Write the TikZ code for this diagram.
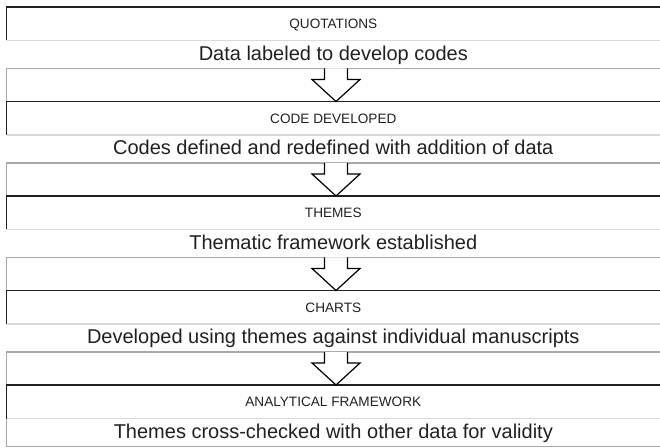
\documentclass[tikz,border=0pt]{standalone}
\usepackage{fontspec}
\setmainfont{Liberation Sans}
\usepackage{xcolor}
\usepackage{tikz}
\usetikzlibrary{calc}
\usetikzlibrary{positioning}
\definecolor{inkgray}{HTML}{231F20}
\definecolor{rulelight}{HTML}{DADADA}
\definecolor{rulemid}{HTML}{A9A9AD}

\begin{document}
\begin{tikzpicture}[x=1pt,y=1pt,
    header/.style={minimum width=653.4pt, minimum height=33.5pt, inner sep=0pt, outer sep=0pt,
      text=inkgray, font=\fontsize{13.6}{16}\selectfont, text height=9.8pt, text depth=0pt},
    body/.style={minimum width=653.4pt, minimum height=28pt, inner sep=0pt, outer sep=0pt,
      text=inkgray, font=\fontsize{20}{24}\selectfont, text height=14.5pt, text depth=3pt},
    topline/.style={draw=inkgray, line width=1.6pt},
    lightline/.style={draw=rulelight, line width=1.5pt},
    midline/.style={draw=rulemid, line width=1.5pt},
    flowarrow/.style={draw=black, fill=white, line width=1.2pt, line join=miter}]
    \useasboundingbox (0,0) rectangle (660,447);
    \node[header] (h1) at (333.3,423.25) {QUOTATIONS};
    \node[body, below=0pt of h1] (b1) {Data labeled to develop codes};
    \node[header, below=33pt of b1] (h2) {CODE DEVELOPED};
    \node[body, below=0pt of h2] (b2) {Codes defined and redefined with addition of data};
    \node[header, below=33pt of b2] (h3) {THEMES};
    \node[body, below=0pt of h3] (b3) {Thematic framework established};
    \node[header, below=33pt of b3] (h4) {CHARTS};
    \node[body, below=0pt of h4] (b4) {Developed using themes against individual manuscripts};
    \node[header, below=33pt of b4] (h5) {ANALYTICAL FRAMEWORK};
    \node[body, below=0pt of h5] (b5) {Themes cross-checked with other data for validity};
    % rules of each band
    \draw[topline] (h1.south west) -- (h1.north west) -- (h1.north east);
    \draw[lightline] (h1.south west) -- (h1.south east);
    \draw[midline] (b1.south east) -- (b1.south west) -- (h2.north west);
    \draw[topline] (h2.south west) -- (h2.north west) -- (h2.north east);
    \draw[lightline] (h2.south west) -- (h2.south east);
    \draw[midline] (b2.south east) -- (b2.south west) -- (h3.north west);
    \draw[topline] (h3.south west) -- (h3.north west) -- (h3.north east);
    \draw[lightline] (h3.south west) -- (h3.south east);
    \draw[midline] (b3.south east) -- (b3.south west) -- (h4.north west);
    \draw[topline] (h4.south west) -- (h4.north west) -- (h4.north east);
    \draw[lightline] (h4.south west) -- (h4.south east);
    \draw[midline] (b4.south east) -- (b4.south west) -- (h5.north west);
    \draw[topline] (h5.south west) -- (h5.north west) -- (h5.north east);
    \draw[lightline] (h5.south west) -- (h5.south east);
    \draw[midline] (b5.south east) -- (b5.south west) -- (h5.south west);
    % open block arrows
    \draw[flowarrow] ($(b1.south)+(-8.8,0)$) -- ++(0,-11) -- ++(-12.5,0) -- ($(h2.north)+(2.7,0)$)
      -- ($(b1.south)+(26.7,-11)$) -- ++(-12.5,0) -- ++(0,11);
    \draw[flowarrow] ($(b2.south)+(-8.8,0)$) -- ++(0,-11) -- ++(-12.5,0) -- ($(h3.north)+(2.7,0)$)
      -- ($(b2.south)+(26.7,-11)$) -- ++(-12.5,0) -- ++(0,11);
    \draw[flowarrow] ($(b3.south)+(-8.8,0)$) -- ++(0,-11) -- ++(-12.5,0) -- ($(h4.north)+(2.7,0)$)
      -- ($(b3.south)+(26.7,-11)$) -- ++(-12.5,0) -- ++(0,11);
    \draw[flowarrow] ($(b4.south)+(-8.8,0)$) -- ++(0,-11) -- ++(-12.5,0) -- ($(h5.north)+(2.7,0)$)
      -- ($(b4.south)+(26.7,-11)$) -- ++(-12.5,0) -- ++(0,11);
\end{tikzpicture}
\end{document}
